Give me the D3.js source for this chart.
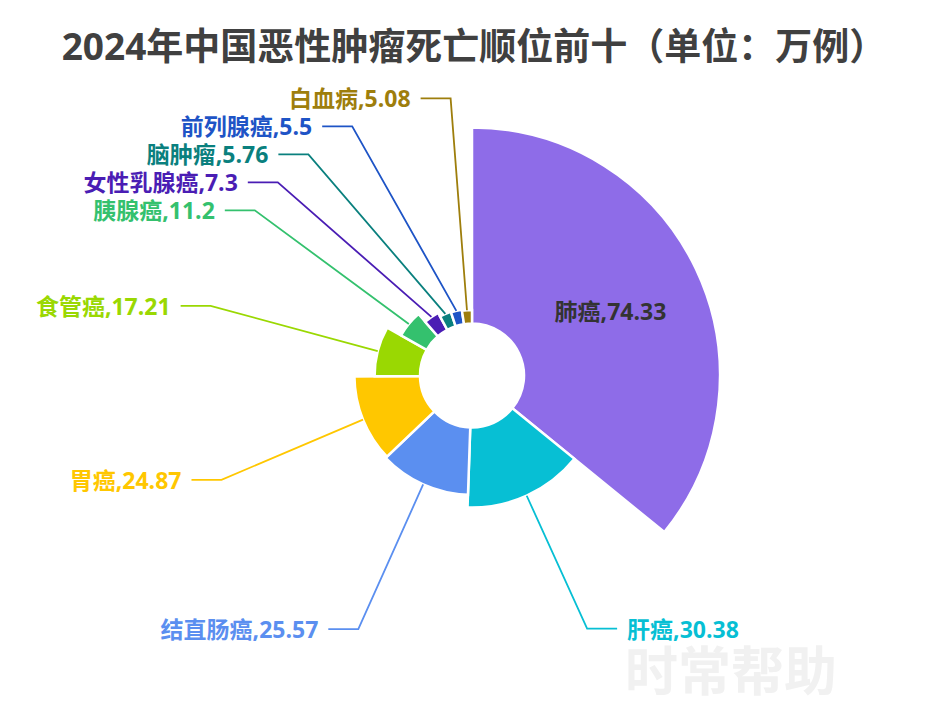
<!doctype html>
<html>
  <head>
    <meta charset="utf-8">
    <script src="https://cdn.jsdelivr.net/npm/d3@7/dist/d3.min.js"></script>
    <style>
    body { margin: 0; background: #fff; }
    svg { display: block; font-family: "Open Sans", "Noto Sans CJK SC", sans-serif; }
    .title { font-size: 37px; font-weight: bold; fill: #404040; }
    .label { font-size: 23px; font-weight: bold; }
    .link { fill: none; stroke-width: 1.8; }
    .mark { font-size: 53px; font-weight: bold; fill: #f1f1f1; }
    </style>
  </head>
  <body>
    <svg width="944" height="708"></svg>
    <script>
      var names = ["肺癌", "肝癌", "结直肠癌", "胃癌", "食管癌", "胰腺癌", "女性乳腺癌", "脑肿瘤", "前列腺癌", "白血病"];
      var values = [74.33, 30.38, 25.57, 24.87, 17.21, 11.2, 7.3, 5.76, 5.5, 5.08];
      var colors = ["#8E6CE8", "#07BFD4", "#5B8FF0", "#FFC700", "#9AD802", "#34C16E", "#4A1DB4", "#0A807E", "#1E54C6", "#9E7E0C"];
      var insideLabels = ["肺癌"];

      var cx = 472, cy = 375.5, r0 = 52, R = 248;
      var lineLen = 30, lineLen2 = 30, gap = 10, rowH = 28;

      var data = names.map((n, i) => ({ name: n, value: values[i], color: colors[i] }));

      var rScale = d3.scaleLinear()
        .domain([0, d3.max(values)])
        .range([r0, R]);

      var pie = d3.pie().sort(null).value(d => d.value);
      var arcs = pie(data);

      var arc = d3.arc()
        .innerRadius(r0)
        .outerRadius(d => rScale(d.data.value));

      var svg = d3.select("svg");

      svg.append("text")
        .attr("class", "title")
        .attr("x", 474)
        .attr("y", 45)
        .attr("text-anchor", "middle")
        .attr("dominant-baseline", "central")
        .text("2024年中国恶性肿瘤死亡顺位前十（单位：万例）");

      svg.append("text")
        .attr("class", "mark")
        .attr("x", 731)
        .attr("y", 670)
        .attr("text-anchor", "middle")
        .attr("dominant-baseline", "central")
        .text("时常帮助");

      var g = svg.append("g").attr("transform", `translate(${cx},${cy})`);

      g.selectAll("path.slice")
        .data(arcs)
        .enter()
        .append("path")
          .attr("class", "slice")
          .attr("d", arc)
          .style("fill", d => d.data.color)
          .style("stroke", "#fff")
          .style("stroke-width", 2.5);

      // outside labels: elbow on a circle, then push overlapping rows apart
      var Re = R + lineLen;
      var outer = arcs.filter(d => insideLabels.indexOf(d.data.name) < 0).map(d => {
        var a = (d.startAngle + d.endAngle) / 2;
        var r = rScale(d.data.value);
        return {
          d: d, dir: Math.sin(a) >= 0 ? 1 : -1,
          sx: r * Math.sin(a), sy: -r * Math.cos(a),
          ex: Re * Math.sin(a), ey: -Re * Math.cos(a)
        };
      });

      [1, -1].forEach(dir => {
        var side = outer.filter(o => o.dir === dir).sort((a, b) => a.ey - b.ey);
        var moved = false;
        for (var i = 1; i < side.length; i++) {
          if (side[i].ey < side[i - 1].ey + rowH) {
            side[i].ey = side[i - 1].ey + rowH;
            moved = true;
          }
        }
        if (!moved) return;
        var rA = Re - 8;
        [side.filter(o => o.ey <= 0), side.filter(o => o.ey > 0)].forEach(semi => {
          if (!semi.length) return;
          var top = semi.reduce((m, o) => Math.abs(o.ey) > Math.abs(m.ey) ? o : m);
          var rB = Math.abs(top.ex) < rA
            ? Math.abs(top.ey) / Math.sqrt(1 - top.ex * top.ex / (rA * rA))
            : rA;
          semi.forEach(o => {
            var dy = Math.abs(o.ey);
            o.ex = dir * Math.sqrt(Math.max(0, 1 - dy * dy / (rB * rB))) * rA;
          });
        });
      });

      g.selectAll("polyline.link")
        .data(outer)
        .enter()
        .append("polyline")
          .attr("class", "link")
          .style("stroke", o => o.d.data.color)
          .attr("points", o => [[o.sx, o.sy], [o.ex, o.ey], [o.ex + o.dir * lineLen2, o.ey]].join(" "));

      g.selectAll("text.out")
        .data(outer)
        .enter()
        .append("text")
          .attr("class", "label out")
          .attr("x", o => o.ex + o.dir * (lineLen2 + gap))
          .attr("y", o => o.ey)
          .attr("text-anchor", o => o.dir > 0 ? "start" : "end")
          .attr("dominant-baseline", "central")
          .style("fill", o => o.d.data.color)
          .text(o => `${o.d.data.name},${o.d.data.value}`);

      g.selectAll("text.in")
        .data(arcs.filter(d => insideLabels.indexOf(d.data.name) >= 0))
        .enter()
        .append("text")
          .attr("class", "label in")
          .attr("transform", d => {
            var a = (d.startAngle + d.endAngle) / 2;
            var m = (r0 + rScale(d.data.value)) / 2;
            return `translate(${m * Math.sin(a) + 3},${-m * Math.cos(a)})`;
          })
          .attr("text-anchor", "middle")
          .attr("dominant-baseline", "central")
          .style("fill", "#333")
          .text(d => `${d.data.name},${d.data.value}`);
    </script>
  </body>
</html>
